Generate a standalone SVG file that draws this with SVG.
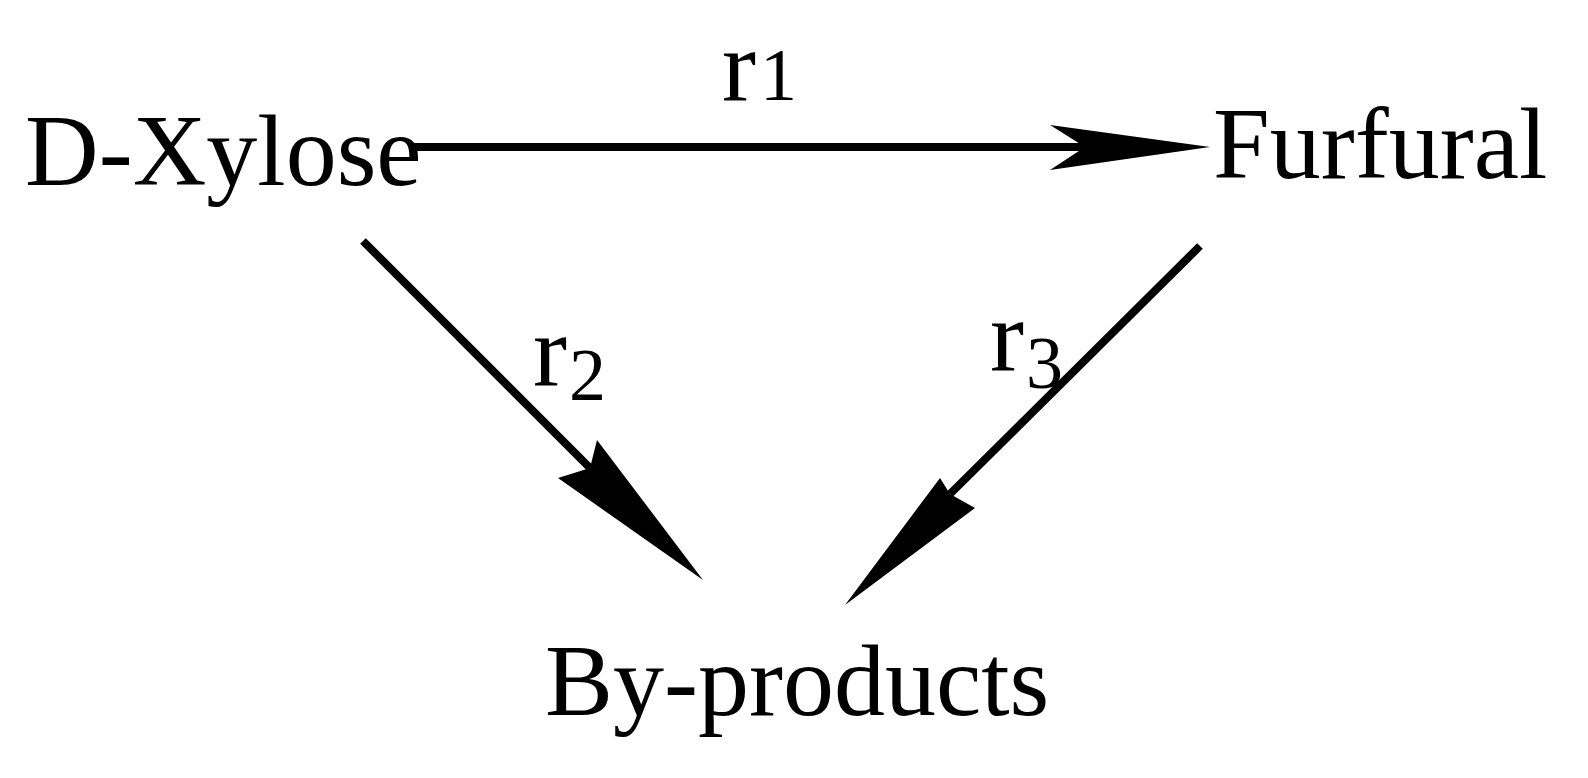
<svg xmlns="http://www.w3.org/2000/svg" width="1588" height="778" viewBox="0 0 1588 778">
<style>
.t{font-family:"Liberation Serif",serif;font-size:102px;fill:#000}
.s{font-size:74px}
.l{stroke:#000;stroke-width:8;fill:none}
</style>
<rect width="1588" height="778" fill="#fff"/>
<g id="xylose"><text class="t" x="25" y="185">D-Xylose</text></g>
<g id="furfural"><text class="t" x="1213" y="178">Furfural</text></g>
<g id="byproducts"><text class="t" x="545" y="715">By-products</text></g>
<g id="connectors">
<line class="l" x1="410" y1="147" x2="1100" y2="147"/>
<path d="M1210 147 L1050 125 L1085 147 L1050 170 Z"/>
<text class="t" x="722" y="100">r<tspan class="s" dx="4">1</tspan></text>
<line class="l" x1="363" y1="241" x2="590" y2="468"/>
<path d="M703 580 L558 478 L590 468 L597 440 Z"/>
<text class="t" x="533" y="385">r<tspan class="s" dx="2" dy="15">2</tspan></text>
<line class="l" x1="1200" y1="246" x2="950" y2="494"/>
<path d="M845 605 L940 478 L950 494 L975 508 Z"/>
<text class="t" x="990" y="370">r<tspan class="s" dx="2" dy="18">3</tspan></text>
</g>
</svg>
